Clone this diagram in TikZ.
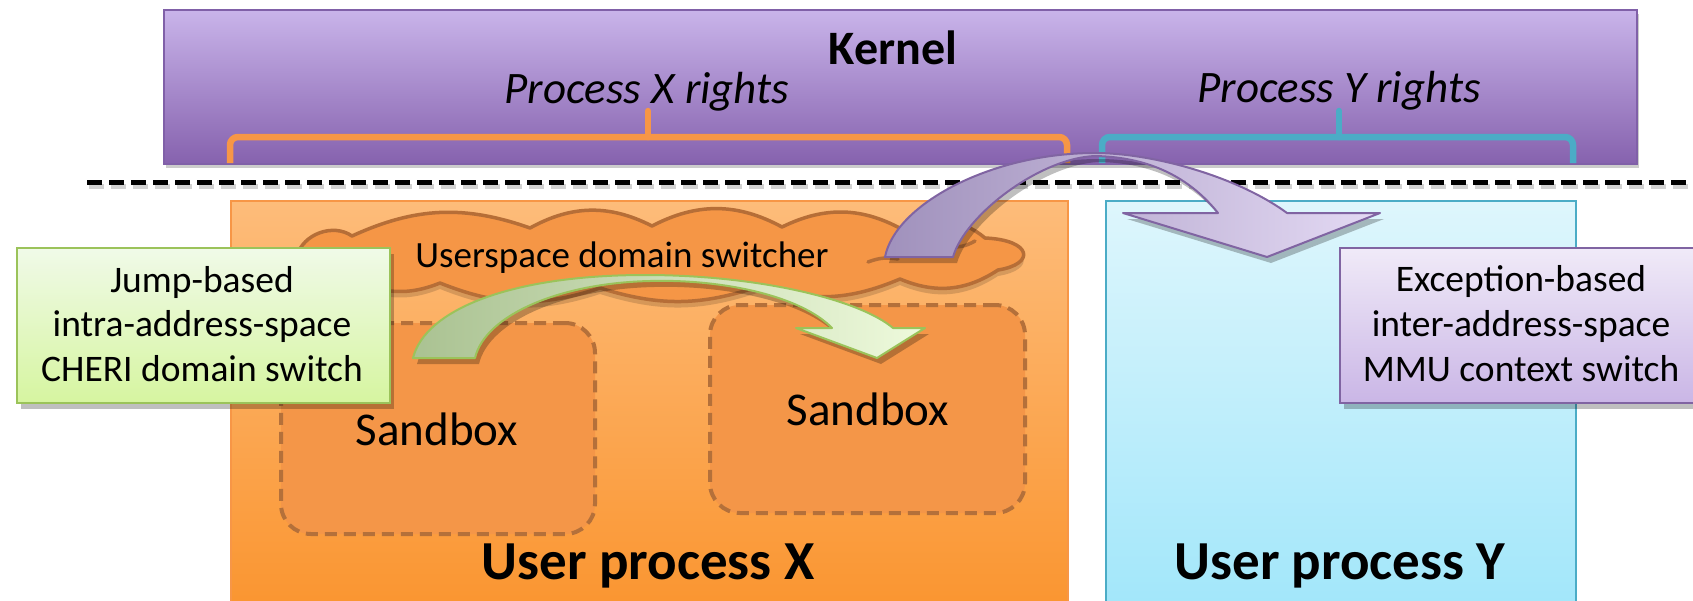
\documentclass[tikz,border=0pt]{standalone}
\usepackage{fontspec}
\setmainfont{Carlito}
\usetikzlibrary{shadows}
\definecolor{kernelTop}{RGB}{201,180,234}
\definecolor{kernelBot}{RGB}{134,98,174}
\definecolor{kernelBorder}{RGB}{128,96,168}
\definecolor{orangeTop}{RGB}{253,188,122}
\definecolor{orangeBot}{RGB}{250,148,46}
\definecolor{orangeBorder}{RGB}{247,150,70}
\definecolor{cyanTop}{RGB}{222,246,252}
\definecolor{cyanBot}{RGB}{160,230,250}
\definecolor{cyanBorder}{RGB}{75,172,198}
\definecolor{cloudFill}{RGB}{245,150,70}
\definecolor{cloudBorder}{RGB}{182,110,55}
\definecolor{sbFill}{RGB}{244,150,72}
\definecolor{sbBorder}{RGB}{180,112,58}
\definecolor{greenTop}{RGB}{240,250,232}
\definecolor{greenBot}{RGB}{214,245,160}
\definecolor{greenBorder}{RGB}{155,195,90}
\definecolor{purpTop}{RGB}{240,234,248}
\definecolor{purpBot}{RGB}{202,182,230}
\definecolor{purpBorder}{RGB}{128,100,162}
\definecolor{gArrowL}{RGB}{170,194,146}
\definecolor{gArrowR}{RGB}{238,250,220}
\definecolor{pArrowL}{RGB}{160,145,188}
\definecolor{pArrowR}{RGB}{228,218,244}
\begin{document}
\begin{tikzpicture}[x=1pt,y=-1pt,
  shad/.style={drop shadow={shadow xshift=4pt,shadow yshift=-6pt,fill=black,opacity=0.25}},
  bigbox/.style={draw, line width=1.5pt, inner sep=0pt, anchor=north west},
  brace/.style={line width=6.5pt, rounded corners=8pt},
  sandbox/.style={draw=sbBorder, fill=sbFill, line width=4pt, dash pattern=on 12pt off 7pt, rounded corners=30pt, inner sep=0pt},
  callout/.style={line width=2pt, inner sep=0pt, anchor=north west, shad},
  calltext/.style={font=\fontsize{37.5}{45}\selectfont, anchor=base},
  proclabel/.style={font=\fontsize{55}{64}\selectfont\bfseries, anchor=base},
  arrowline/.style={line width=2pt, line join=round, shad}
]
\useasboundingbox (0,0) rectangle (1693,600);
\clip (0,0) rectangle (1693,600);

% Kernel
\node[bigbox, draw=kernelBorder, top color=kernelTop, bottom color=kernelBot,
  minimum width=1473pt, minimum height=154pt,
  drop shadow={shadow xshift=2pt,shadow yshift=-4pt,fill=black,opacity=0.2}] (kernel) at (163,9) {};
\node[font=\fontsize{48}{58}\selectfont\bfseries, anchor=base] (kernelT) at (893,64) {Kernel};
\node[font=\fontsize{45}{54}\selectfont\itshape, anchor=base] (pxr) at (647,103) {Process X rights};
\node[font=\fontsize{45}{54}\selectfont\itshape, anchor=base] (pyr) at (1339,102) {Process Y rights};

% braces
\draw[brace, draw=orangeBorder] (230,163) -- (230,137) -- (1067,137) -- (1067,163);
\draw[line width=6.5pt, draw=orangeBorder, line cap=round] (648,137) -- (648,111);
\draw[brace, draw=cyanBorder] (1102,163) -- (1102,137) -- (1573,137) -- (1573,163);
\draw[line width=6.5pt, draw=cyanBorder, line cap=round] (1339,137) -- (1339,111);

% dashed separator
\coordinate (dashL) at (87,182);
\coordinate (dashR) at (1700,182);
\draw[line width=5pt, dash pattern=on 15pt off 7pt, black!35, opacity=0.5] ([xshift=2pt,yshift=-4pt]dashL) -- ([xshift=2pt,yshift=-4pt]dashR);
\draw[line width=5pt, dash pattern=on 15pt off 7pt] (dashL) -- (dashR);

% process boxes
\node[bigbox, draw=orangeBorder, top color=orangeTop, bottom color=orangeBot,
  minimum width=837pt, minimum height=420pt] (procX) at (230,200) {};
\node[bigbox, draw=cyanBorder, top color=cyanTop, bottom color=cyanBot,
  minimum width=470pt, minimum height=420pt] (procY) at (1105,200) {};

% cloud (flattened)
\path[draw=cloudBorder, fill=cloudFill, line width=3.5pt, line join=round,
  drop shadow={shadow xshift=0pt,shadow yshift=-6pt,fill=black,opacity=0.15}]
  (297,256) to[bend left=55] (352,236)
  to[bend left=22] (530,228)
  to[bend left=28] (652,226)
  to[bend left=28] (782,227)
  to[bend left=28] (905,231)
  to[bend left=35] (985,238)
  .. controls (1032,240) and (1036,264) .. (998,270)
  to[bend left=28] (900,279)
  to[bend left=20] (760,286)
  to[bend left=18] (600,288)
  to[bend left=20] (440,283)
  to[bend left=28] (345,273)
  to[bend left=45] (297,256) -- cycle;
\draw[cloudBorder, line width=3.5pt, line cap=round] (946,246) to[bend right=20] (975,241);
\draw[cloudBorder, line width=3.5pt, line cap=round] (868,262) to[bend left=15] (898,259);
\node[font=\fontsize{37}{44}\selectfont, anchor=base] (cloudT) at (622,267) {Userspace domain switcher};

% sandboxes
\node[sandbox, minimum width=314pt, minimum height=211pt] (sbL) at (438,428.5) {};
\node[sandbox, minimum width=315pt, minimum height=208pt] (sbR) at (867.5,409) {};
\node[font=\fontsize{47}{56}\selectfont, anchor=base] (sbLT) at (437,445) {Sandbox};
\node[font=\fontsize{47}{56}\selectfont, anchor=base] (sbRT) at (868,425) {Sandbox};

% process labels
\node[proclabel] (pxT) at (648,579) {User process X};
\node[proclabel] (pyT) at (1340,579) {User process Y};

% green curved arrow
\path[arrowline, draw=greenBorder, left color=gArrowL, right color=gArrowR]
  (413,358) .. controls (425,310) and (510,275) .. (645,275)
  .. controls (760,275) and (860,300) .. (893,328)
  -- (925,328) -- (877,358) -- (796,328) -- (832,328)
  .. controls (800,295) and (720,279) .. (650,281)
  .. controls (560,283) and (485,315) .. (475,358) -- cycle;

% purple curved arrow
\path[arrowline, draw=purpBorder, left color=pArrowL, right color=pArrowR]
  (885,257) .. controls (895,205) and (990,153) .. (1095,153)
  .. controls (1150,153) and (1235,175) .. (1287,213)
  -- (1380,213) -- (1267,257) -- (1123,213) -- (1218,213)
  .. controls (1190,178) and (1150,157) .. (1095,156)
  .. controls (1040,158) and (965,215) .. (953,257) -- cycle;

% callouts
\node[callout, draw=greenBorder, top color=greenTop, bottom color=greenBot,
  minimum width=373pt, minimum height=155pt] (gcall) at (16,247) {};
\node[calltext] (g1) at (202,292) {Jump-based};
\node[calltext] (g2) at (202,336) {intra-address-space};
\node[calltext] (g3) at (202,381) {CHERI domain switch};

\node[callout, draw=purpBorder, top color=purpTop, bottom color=purpBot,
  minimum width=370pt, minimum height=155pt] (pcall) at (1339,247) {};
\node[calltext] (p1) at (1521,291) {Exception-based};
\node[calltext] (p2) at (1521,336) {inter-address-space};
\node[calltext] (p3) at (1521,381) {MMU context switch};
\end{tikzpicture}
\end{document}
